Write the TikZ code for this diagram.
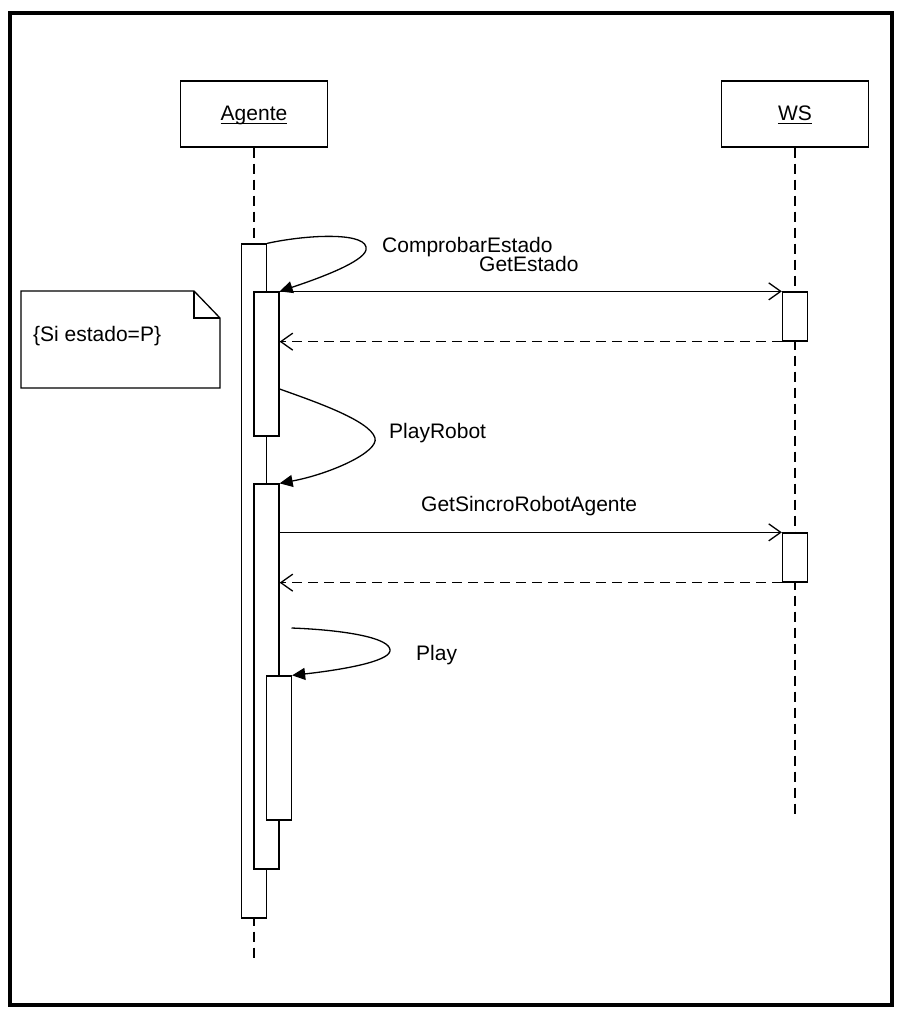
\documentclass[tikz,border=0pt]{standalone}
\usepackage{fontspec}
\setmainfont{Liberation Sans}
\usetikzlibrary{arrows.meta}
\begin{document}
\begin{tikzpicture}[x=1pt,y=-1pt,
  every node/.style={font=\fontsize{21}{25}\selectfont},
  thinline/.style={line width=1.3pt},
  objbox/.style={draw, thinline, minimum width=147pt, minimum height=66pt, inner sep=0pt},
  msglabel/.style={inner sep=0pt, anchor=base west},
  lifeline/.style={thinline, dash pattern=on 10pt off 6pt},
  actbar/.style={draw, thinline, fill=white, minimum width=25pt, inner sep=0pt},
  call/.style={thinline, -{Straight Barb[length=12pt,width=17pt]}},
  reply/.style={thinline, dash pattern=on 10pt off 6pt, -{Straight Barb[length=12pt,width=17pt]}},
  selfcall/.style={thinline, -{Triangle[length=13pt,width=12pt]}},
]
\useasboundingbox (0,0) rectangle (898,1013);

% outer frame
\draw[line width=3.2pt] (10,13) rectangle (892,1005);

% objects
\node[objbox] (ag) at (254,114) {};
\node[inner sep=0pt, anchor=base] (agT) at (254,120) {Agente};
\draw[thinline] ([yshift=-3.5pt]agT.base west) -- ([yshift=-3.5pt]agT.base east);

\node[objbox] (ws) at (795,114) {};
\node[inner sep=0pt, anchor=base] (wsT) at (795,120) {WS};
\draw[thinline] ([yshift=-3.5pt]wsT.base west) -- ([yshift=-3.5pt]wsT.base east);

% lifelines
\coordinate (agEnd) at (254,960);
\coordinate (wsEnd) at (795,815);
\draw[lifeline] (ag.south) -- (agEnd);
\draw[lifeline] (ws.south) -- (wsEnd);

% activation bars of Agente
\node[actbar, minimum height=674pt] (a1) at (254,581) {};
\node[actbar, minimum height=144pt] (a2) at (266.5,364) {};
\node[actbar, minimum height=385pt] (a3) at (266.5,676.5) {};
\node[actbar, minimum height=144pt] (a4) at (279,748) {};

% activation bars of WS
\node[actbar, minimum height=49pt] (b1) at (795,316.5) {};
\node[actbar, minimum height=49pt] (b2) at (795,557.5) {};

% note
\coordinate (nTL) at (21,291);
\coordinate (nFold) at (194,291);
\coordinate (nFoldIn) at (194,318);
\coordinate (nR) at (220,318);
\coordinate (nBR) at (220,388);
\coordinate (nBL) at (21,388);
\draw[thinline] (nTL) -- (nFold) -- (nR) -- (nBR) -- (nBL) -- cycle;
\draw[thinline] (nFold) -- (nFoldIn) -- (nR);
\node[msglabel] (noteT) at (33,341) {\{Si estado=P\}};

% self call: ComprobarEstado
\draw[selfcall] (a1.north east) .. controls (310,234) and (370,232) .. (366,250)
  .. controls (363,262) and (320,278) .. (a2.north east);
\node[msglabel] (lblComp) at (382,252) {ComprobarEstado};

% GetEstado
\draw[call] (a2.north east) -- (b1.north west);
\draw[reply] (b1.south west) -- (b1.south west -| a2.east);
\node[msglabel] (lblGet) at (479,271) {GetEstado};

% self call: PlayRobot
\draw[selfcall] (a2.east |- 0,389) .. controls (310,400) and (370,420) .. (375,438)
  .. controls (379,452) and (330,474) .. (a3.north east);
\node[msglabel] (lblPlayRobot) at (389,438) {PlayRobot};

% GetSincroRobotAgente
\draw[call] (b2.north west -| a3.east) -- (b2.north west);
\draw[reply] (b2.south west) -- (b2.south west -| a3.east);
\node[msglabel] (lblSincro) at (421,511) {GetSincroRobotAgente};

% self call: Play
\coordinate (playStart) at (291.5,628);
\draw[selfcall] (playStart) .. controls (345,630) and (392,638) .. (390,651)
  .. controls (388,662) and (340,670) .. (a4.north east);
\node[msglabel] (lblPlay) at (416,660) {Play};

\end{tikzpicture}
\end{document}
